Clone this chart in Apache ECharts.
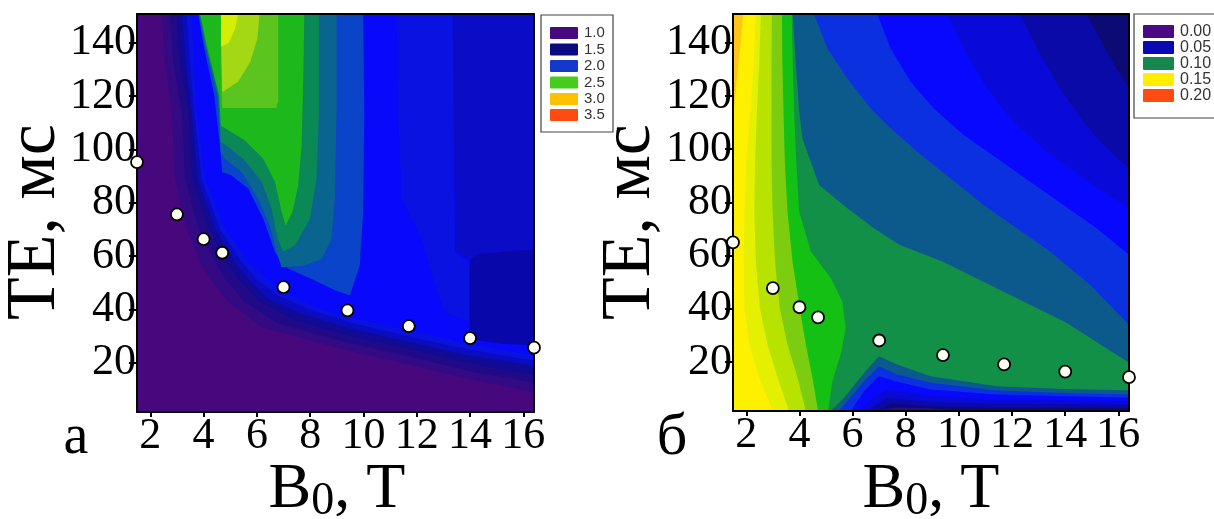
<!DOCTYPE html>
<html><head><meta charset="utf-8">
<script src="https://cdn.jsdelivr.net/npm/echarts@6/dist/echarts.min.js"></script>
<style>html,body{margin:0;padding:0;background:#fff}#c{width:1214px;height:519px}</style>
</head><body><div id="c"></div><script>
// ---------- data ----------
const fieldB0 = [1.5, 3, 4, 4.7, 7, 9.4, 11.7, 14, 16.4];
const teOptA = [95.3, 75.7, 66.4, 61.3, 48.4, 39.7, 33.8, 29.3, 25.7];
const teOptB = [65.0, 47.8, 40.6, 36.8, 28.1, 22.6, 19.1, 16.4, 14.3];
const xTickValues = [2, 4, 6, 8, 10, 12, 14, 16];
const yTickValues = [20, 40, 60, 80, 100, 120, 140];
const legendALabels = ['1.0', '1.5', '2.0', '2.5', '3.0', '3.5'];
const legendBLabels = ['0.00', '0.05', '0.10', '0.15', '0.20'];
const X_MIN = 1.5, X_MAX = 16.4, Y_MIN = 1.6, Y_MAX = 150.8;

// panel a: contour boundaries (B0 [T], TE [ms])
const aLvA = [[2.43,150.8],[2.55,132.8],[2.8,114],[2.93,89],[3.36,70.3],[3.86,57.8],[4.24,51.5],[4.93,42.8],[6.18,33.4],[9.43,24.7],[11.68,19.4],[13.93,14],[16.4,9]];
const aLvB = [[2.74,150.8],[2.86,132.8],[3.18,114],[3.3,89],[3.8,70.3],[4.43,57.8],[4.8,51.5],[5.55,42.8],[6.8,34.7],[9.43,27.6],[11.68,22.5],[13.93,17],[16.4,12.6]];
const aLvC = [[2.99,150.8],[3.11,132.8],[3.43,114],[3.58,89],[4.18,70.3],[4.86,57.8],[5.3,51.5],[6.05,43.4],[7.3,36.5],[9.43,30.3],[11.68,25.3],[13.93,20],[16.4,15.5]];
const aLvD = [[3.18,150.8],[3.33,132.8],[3.55,114],[3.78,89],[4.43,70.3],[5.18,57.8],[5.68,51.5],[6.43,44],[7.68,38.4],[9.43,33],[11.68,27.8],[13.93,22.8],[16.4,18.8]];
const aLvE = [[3.36,150.8],[3.49,132.8],[3.65,114],[3.93,89],[4.61,70.3],[5.43,57.8],[5.99,51.5],[6.8,45.3],[7.93,40.3],[9.43,35.3],[11.68,30],[13.93,25],[16.4,20.9]];
const aLvF = [[3.53,150.8],[3.65,132.8],[3.74,114],[4.05,89],[4.8,70.3],[5.68,57.8],[6.36,51.5],[7.05,46.5],[8.18,41],[9.43,37.2],[11.68,32.2],[13.93,27.2],[16.4,22.8]];
const aColMid = [[11.24,150.8],[13.36,150.8],[13.43,61.5],[13.99,56.5],[13.99,35.3],[13.05,39],[12.61,51.5],[12.18,66.5],[11.43,81.5],[11.3,114]];
const aColDark = [[13.36,150.8],[16.4,150.8],[16.4,62.5],[14.3,60.9],[13.99,58.4],[13.45,61.8],[13.4,101.5]];
const aRect = [[13.99,58.4],[14.3,60.9],[16.4,62.5],[16.4,26.5],[15.18,27.2],[14.3,28.4],[13.99,31.6]];
const aLvG = [[3.8,150.8],[9.99,150.8],[10.03,114],[9.99,76.5],[9.86,56.5],[9.49,45.3],[8.93,47.2],[8.05,51.5],[7.18,55.3],[6.68,61.5],[6.24,74],[5.68,85.3],[5.05,90.3],[4.7,91.5],[4.61,101.5],[4.4,120.3],[4.0,139]];
const aLvH = [[3.82,150.8],[8.99,150.8],[8.99,114],[8.93,82.8],[8.8,66.5],[8.43,59],[7.8,56.5],[6.93,55.9],[6.74,61.5],[6.49,71.5],[6.05,81.5],[5.43,91.5],[4.8,96.5],[4.65,99],[4.52,120.3],[4.05,139]];
const aLvI = [[3.85,150.8],[8.33,150.8],[8.33,114],[8.24,89],[7.99,74],[7.43,64],[6.99,61.8],[6.78,66.5],[6.55,77.8],[6.18,87.8],[5.55,95.9],[4.93,100.9],[4.65,102.8],[4.56,120.3],[4.08,139]];
const aLvJ = [[3.87,150.8],[7.78,150.8],[7.74,126.5],[7.68,101.5],[7.55,86.5],[7.33,76.5],[7.08,71.5],[6.93,76.5],[6.68,87.8],[6.24,96.5],[5.55,103.4],[4.93,107.2],[4.65,109],[4.58,120.3],[4.12,139]];
const aLvK = [[4.65,150.8],[6.8,150.8],[6.8,117.8],[6.74,116.8],[6.74,115.6],[4.7,115.6],[4.65,132.8]];
const aLvL = [[4.65,150.8],[6.1,150.8],[6.02,141.6],[5.75,132.8],[5.3,125.5],[4.7,121.5]];
const aLvM = [[4.65,150.8],[5.3,150.8],[5.18,145.3],[4.95,140],[4.65,138.5]];

// panel b: contour boundaries (upper / lower edges)
const bLv1 = [[16.4,1.6],[10.2,1.6],[8.93,2.6],[7.68,3],[6.68,1.6]];
const bLv2u = [[14.8,150.8],[15.3,141.55],[15.93,130.3],[16.4,122.8]];
const bLv2l = [[16.4,2.8],[11.43,2.8],[8.93,3.3],[7.43,4.3],[6.93,1.6]];
const bLv3u = [[12.3,150.8],[12.93,137.8],[13.8,122.8],[14.68,110.3],[15.55,100.3],[16.4,92.8]];
const bLv3l = [[16.4,4.05],[11.43,4.3],[8.93,5.05],[7.3,6.55],[6.8,3.4],[6.61,1.6]];
const bLv4u = [[9.55,150.8],[10.18,137.8],[11.05,122.8],[12.05,110.3],[13.3,99.05],[14.68,89.05],[16.4,77.8]];
const bLv4l = [[16.4,5.3],[11.43,5.9],[8.93,7.2],[7.3,9.7],[6.68,5.9],[6.3,1.6]];
const bLv5u = [[6.93,150.8],[7.43,137.8],[8.18,125.3],[9.05,115.3],[10.18,105.3],[11.43,96.55],[12.68,87.8],[13.93,79.05],[15.18,70.3],[16.4,60.3]];
const bLv5l = [[16.4,6.55],[11.43,7.8],[8.93,9.7],[7.68,12.55],[6.99,14.7],[6.43,9.05],[5.93,1.6]];
const bLv6u = [[4.55,150.8],[5.05,137.8],[5.8,126.55],[6.68,115.3],[7.3,109.05],[8.43,99.05],[9.68,89.05],[10.93,79.05],[12.18,70.3],[13.43,61.55],[14.93,49.05],[16.4,34.05]];
const bLv6l = [[16.4,7.8],[13.93,8.4],[11.43,9.3],[8.93,12.2],[7.68,15.3],[6.99,18.4],[6.43,12.8],[5.8,5.3],[5.49,1.6]];
const bLv7u = [[3.75,150.8],[3.86,132.8],[3.99,114.05],[4.11,104.05],[4.74,86.55],[5.8,77.8],[6.8,70.3],[7.76,64.05],[9.38,57.8],[11.51,47.3],[14.03,34.9],[16.4,19.7]];
const bLv7l = [[16.4,9.4],[13.93,9.9],[11.43,10.9],[8.93,14.7],[7.68,19.05],[6.99,22.2],[6.43,15.9],[5.68,6.55],[5.18,1.6]];
const bLv8 = [[3.71,150.8],[3.75,132.8],[3.8,114.05],[3.88,95.3],[3.99,76.55],[4.43,61.55],[5.18,51.55],[5.61,42.8],[5.74,32.8],[5.55,22.8],[5.24,12.8],[5.08,1.6]];
const bLv9 = [[3.34,150.8],[3.36,132.8],[3.4,114.05],[3.45,95.3],[3.55,76.55],[3.74,57.8],[4.01,40.3],[4.24,26.55],[4.49,14.05],[4.7,1.6]];
const bLv10 = [[2.96,150.8],[2.95,132.8],[2.95,114.05],[2.95,95.3],[2.99,76.55],[3.08,57.8],[3.26,40.3],[3.55,26.55],[3.93,14.05],[4.24,1.6]];
const bLv11 = [[2.55,150.8],[2.49,132.8],[2.4,114.05],[2.33,95.3],[2.3,76.55],[2.36,57.8],[2.51,40.3],[2.8,26.55],[3.18,14.05],[3.61,1.6]];
const bLv12 = [[2.36,150.8],[2.28,132.8],[2.15,114.05],[2.0,95.3],[1.93,76.55],[1.9,57.8],[1.93,40.3],[2.11,26.55],[2.49,14.05],[2.99,1.6]];
const bLv13 = [[1.88,150.8],[1.78,139.05],[1.65,126.55],[1.53,114.05],[1.5,107.8]];

// ---------- styles ----------
const aColors = ['#46087c','#340a84','#200a88','#100a94','#0a0cc0','#0a12e2','#0808fa','#0a12e2','#0a0cc6','#0808aa',
                 '#0a44c8','#0a6490','#0a8856','#1cb81c','#5cc41e','#a4d814','#d4ee04'];
const bColors = ['#2e0a7c','#0c0a74','#0a0aa8','#0a0ad8','#0808ff','#0a30e0','#0c5a8c','#129048','#14c014','#7ccc10',
                 '#b8e200','#e4f000','#fff000','#ffc418'];
const legendAColors = ['#460a7e','#0c0a80','#1438cc','#48cc1c','#ffc000','#ff4a10'];
const legendBColors = ['#4a0a84','#0a0ab4','#16884e','#ffee00','#ff4a10'];

const frame = [[X_MIN,Y_MAX],[X_MAX,Y_MAX],[X_MAX,Y_MIN],[X_MIN,Y_MIN]];
const closeTR = c => c.concat([[X_MAX,Y_MAX]]);
const closeBL = c => c.concat([[X_MIN,Y_MIN],[X_MIN,Y_MAX]]);
const band = (u,l) => closeBL(u.concat(l));

const aRegions = [frame, closeTR(aLvA), closeTR(aLvB), closeTR(aLvC), closeTR(aLvD), closeTR(aLvE), closeTR(aLvF),
  aColMid, aColDark, aRect, aLvG, aLvH, aLvI, aLvJ, aLvK, aLvL, aLvM];
const bRegions = [frame, [[X_MIN,Y_MAX],[X_MAX,Y_MAX]].concat(bLv1, [[X_MIN,Y_MIN]]),
  band(bLv2u,bLv2l), band(bLv3u,bLv3l), band(bLv4u,bLv4l), band(bLv5u,bLv5l), band(bLv6u,bLv6l), band(bLv7u,bLv7l),
  closeBL(bLv8), closeBL(bLv9), closeBL(bLv10), closeBL(bLv11), closeBL(bLv12), bLv13.concat([[X_MIN,Y_MAX]])];

function contourSeries(regions, colors, ai) {
  return {
    type: 'custom', coordinateSystem: 'cartesian2d', xAxisIndex: ai, yAxisIndex: ai,
    silent: true, animation: false, z: 1, clip: true,
    data: regions.map((r, i) => [r[0][0], r[0][1], i]),
    renderItem: function (params, api) {
      const idx = api.value(2);
      const pts = regions[idx].map(p => api.coord(p));
      return { type: 'polygon', shape: { points: pts }, style: { fill: colors[idx] } };
    }
  };
}
function pointSeries(te, ai) {
  return {
    type: 'scatter', xAxisIndex: ai, yAxisIndex: ai, clip: false, z: 20, animation: false, silent: true,
    symbol: 'circle', symbolSize: 12,
    itemStyle: { color: '#fffff4', borderColor: '#000', borderWidth: 1.8, opacity: 1 },
    data: fieldB0.map((b, i) => [b, te[i]])
  };
}
const serif = 'Liberation Serif';
function xAxes(gi) {
  return [
    { gridIndex: gi, type: 'value', min: X_MIN, max: X_MAX, position: 'bottom', z: 10,
      axisLine: { show: true, onZero: false, lineStyle: { color: '#000', width: 2 } },
      axisTick: { show: true, length: 5, customValues: xTickValues, lineStyle: { color: '#000', width: 2 } },
      axisLabel: { show: true, customValues: xTickValues, margin: 2, color: '#000', fontSize: 44, fontFamily: serif },
      splitLine: { show: false } },
    { gridIndex: gi, type: 'value', min: X_MIN, max: X_MAX, position: 'top', z: 10,
      axisLine: { show: true, onZero: false, lineStyle: { color: '#000', width: 2 } },
      axisTick: { show: false }, axisLabel: { show: false }, splitLine: { show: false } }
  ];
}
function yAxes(gi) {
  return [
    { gridIndex: gi, type: 'value', min: Y_MIN, max: Y_MAX, position: 'left', z: 10,
      axisLine: { show: true, onZero: false, lineStyle: { color: '#000', width: 2 } },
      axisTick: { show: true, length: 8, customValues: yTickValues, lineStyle: { color: '#000', width: 2 } },
      axisLabel: { show: true, customValues: yTickValues, margin: 1, color: '#000', fontSize: 44, fontFamily: serif },
      splitLine: { show: false } },
    { gridIndex: gi, type: 'value', min: Y_MIN, max: Y_MAX, position: 'right', z: 10,
      axisLine: { show: true, onZero: false, lineStyle: { color: '#000', width: 2 } },
      axisTick: { show: false }, axisLabel: { show: false }, splitLine: { show: false } }
  ];
}
function legend(x, y, w, h, sx, sw, sh, rowY, tx, fs, labels, colors) {
  const els = [{ type: 'rect', shape: { x: x, y: y, width: w, height: h }, style: { fill: '#fff', stroke: '#444', lineWidth: 1.2 }, z: 30 }];
  labels.forEach((lab, i) => {
    els.push({ type: 'rect', shape: { x: sx, y: rowY[i], width: sw, height: sh, r: 1 }, style: { fill: colors[i] }, z: 31 });
    els.push({ type: 'text', x: tx, y: rowY[i] + sh / 2, style: { text: lab, fontSize: fs, fontFamily: 'Liberation Sans', fill: '#333', verticalAlign: 'middle', align: 'left' }, z: 31 });
  });
  return els;
}
function xName(cx) {
  const big = 64, small = 46;
  const x0 = cx - (0.667 * big + 0.5 * small + 1.111 * big) / 2;
  const st = (t, fs) => ({ text: t, fontSize: fs, fontFamily: serif, fill: '#000', align: 'left', verticalAlign: 'middle' });
  return [
    { type: 'text', x: x0, y: 490, z: 30, style: st('B', big) },
    { type: 'text', x: x0 + 0.667 * big, y: 502, z: 30, style: st('0', small) },
    { type: 'text', x: x0 + 0.667 * big + 0.5 * small, y: 490, z: 30, style: st(', T', big) }
  ];
}
function yName(cx) {
  return { type: 'text', x: cx, y: 222, rotation: Math.PI / 2, z: 30, style: {
    text: 'TE, мс', fontSize: 70, fontFamily: serif, fill: '#000', align: 'center', verticalAlign: 'middle' } };
}

const chart = echarts.init(document.getElementById('c'));
chart.setOption({
  animation: false,
  backgroundColor: '#fff',
  grid: [
    { left: 137, top: 14, width: 397, height: 398 },
    { left: 733, top: 14, width: 396, height: 397 }
  ],
  xAxis: xAxes(0).concat(xAxes(1)),
  yAxis: yAxes(0).concat(yAxes(1)),
  series: [
    contourSeries(aRegions, aColors, 0),
    Object.assign(contourSeries(bRegions, bColors, 2), { xAxisIndex: 2, yAxisIndex: 2 }),
    pointSeries(teOptA, 0),
    Object.assign(pointSeries(teOptB, 2), { xAxisIndex: 2, yAxisIndex: 2 })
  ],
  graphic: [].concat(
    legend(541, 15, 72, 117, 550, 28, 12, [27, 43.5, 60, 76.5, 93, 109], 584, 15, legendALabels, legendAColors),
    legend(1134, 14, 100, 104, 1143, 31, 13, [25, 41, 57, 73, 89], 1180, 16, legendBLabels, legendBColors),
    xName(337), xName(931),
    [yName(36), yName(631),
     { type: 'text', x: 76, y: 438, z: 30, style: { text: 'а', fontSize: 56, fontFamily: serif, fill: '#000', align: 'center', verticalAlign: 'middle' } },
     { type: 'text', x: 672, y: 438, z: 30, style: { text: 'б', fontSize: 60, fontFamily: serif, fill: '#000', align: 'center', verticalAlign: 'middle' } }]
  )
});
</script></body></html>
